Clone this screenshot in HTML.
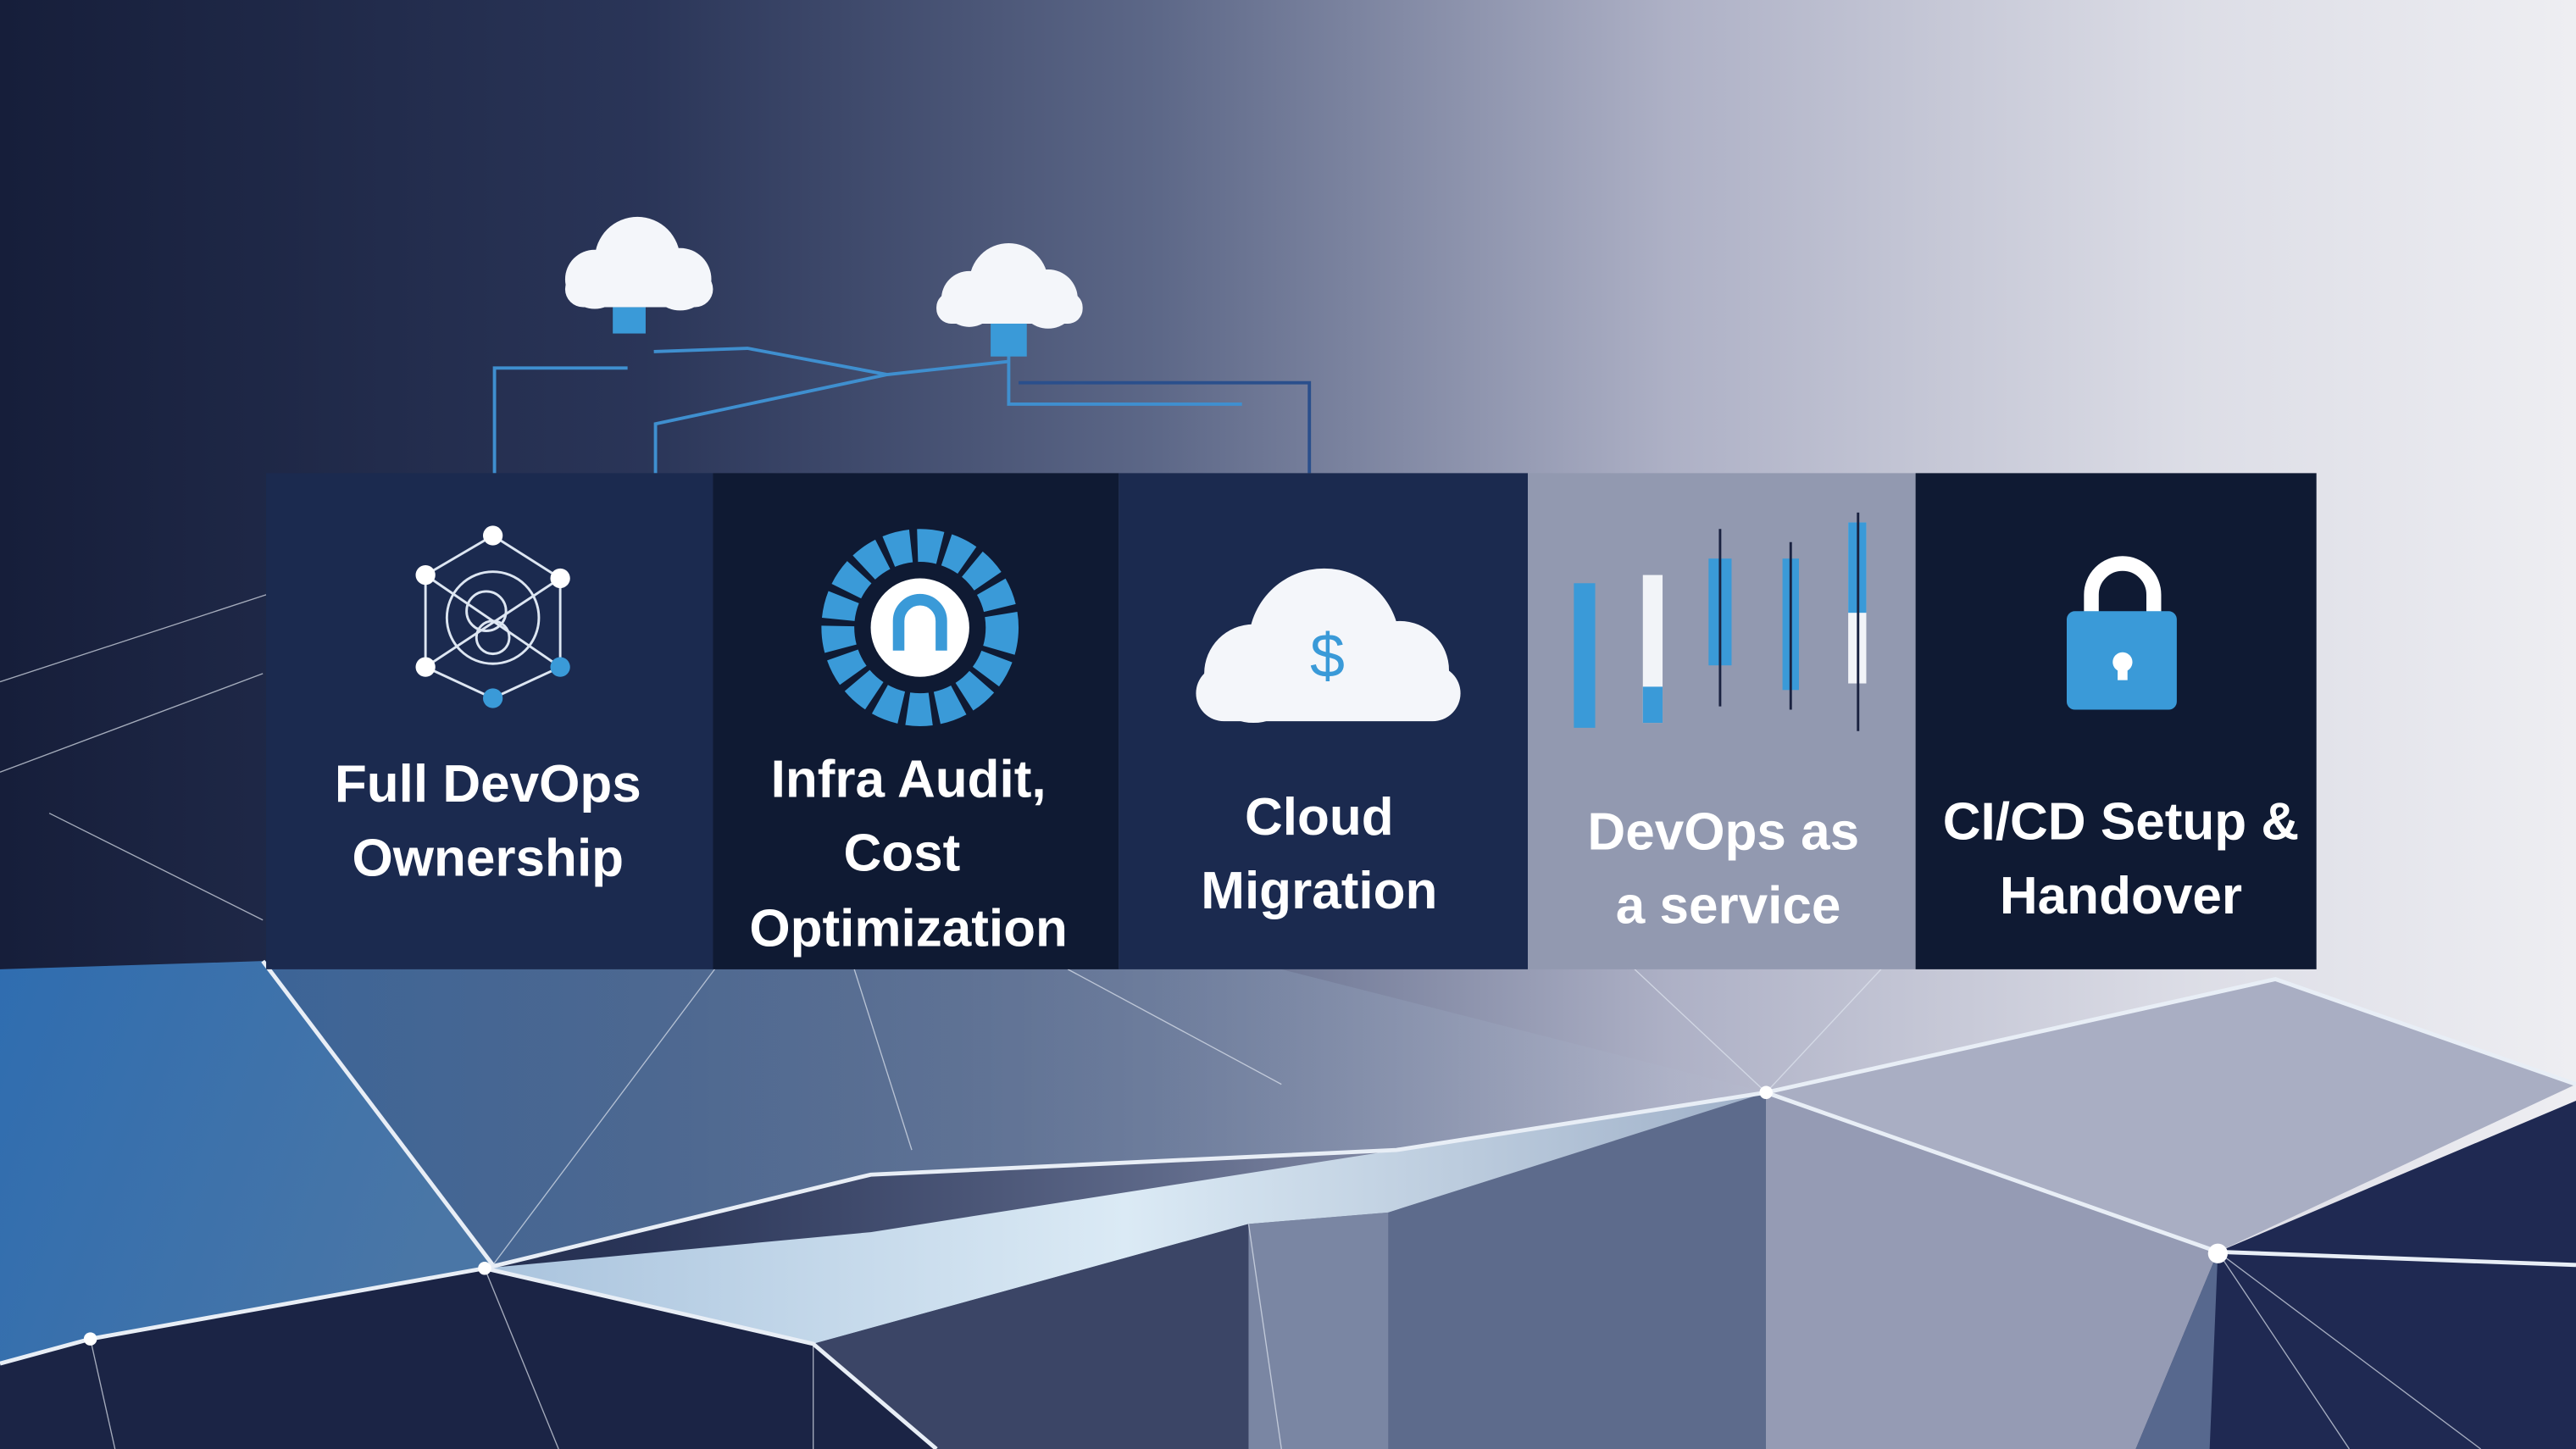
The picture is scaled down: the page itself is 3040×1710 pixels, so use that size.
<!DOCTYPE html>
<html><head><meta charset="utf-8"><style>
html,body{margin:0;padding:0;width:3040px;height:1710px;overflow:hidden;background:#1a2240}
svg{display:block}
text{font-family:"Liberation Sans","DejaVu Sans",sans-serif;font-weight:bold;fill:#fff;text-anchor:middle}
</style></head><body>
<svg width="3040" height="1710" viewBox="0 0 1568 882" preserveAspectRatio="none" xmlns="http://www.w3.org/2000/svg">
<defs>
<linearGradient id="bg" x1="0" y1="0" x2="1" y2="0">
<stop offset="0" stop-color="#161e3a"/><stop offset="0.25" stop-color="#2a3558"/><stop offset="0.45" stop-color="#5d6888"/><stop offset="0.65" stop-color="#aeb1c6"/><stop offset="0.85" stop-color="#dcdde6"/><stop offset="1" stop-color="#eeeef2"/>
</linearGradient>
<linearGradient id="blue" x1="0" y1="0" x2="1" y2="0.3">
<stop offset="0" stop-color="#2f6db0"/><stop offset="1" stop-color="#4a76a6"/>
</linearGradient>
<linearGradient id="mid" x1="0" y1="0" x2="1" y2="0">
<stop offset="0" stop-color="#3f6ba0" stop-opacity="0.9"/><stop offset="0.5" stop-color="#6f86a8" stop-opacity="0.6"/><stop offset="1" stop-color="#b9c1d3" stop-opacity="0.1"/>
</linearGradient>
<linearGradient id="light" x1="0" y1="0" x2="1" y2="0">
<stop offset="0" stop-color="#a9c3dd"/><stop offset="0.5" stop-color="#dbeaf5"/><stop offset="1" stop-color="#9fb0c8"/>
</linearGradient>
</defs>
<rect width="1568" height="882" fill="url(#bg)"/>
<polygon points="0,590 160,585 300,770 55,815 0,830" fill="url(#blue)"/>
<polygon points="160,585 440,590 780,590 1075,665 850,700 530,715 300,770" fill="url(#mid)"/>
<polygon points="1075,665 1385,596 1568,660 1350,762" fill="#a9aec3"/>
<polygon points="295,772 530,750 850,700 1075,665 845,738 760,745 495,818" fill="url(#light)"/>
<polygon points="0,830 55,815 295,772 495,818 570,882 0,882" fill="#1b2445"/>
<polygon points="495,818 760,745 760,882 570,882" fill="#3b4566"/>
<polygon points="760,745 845,738 845,882 760,882" fill="#7a86a3"/>
<polygon points="845,738 1075,665 1075,882 845,882" fill="#5d6b8c"/>
<polygon points="1075,665 1350,762 1300,882 1075,882" fill="#959bb4"/>
<polygon points="1350,762 1568,670 1568,882 1300,882" fill="#1f2952"/>
<polygon points="1350,762 1300,882 1345,882" fill="#57688e"/>
<g stroke="#e8eef6" stroke-width="2.5" fill="none">
<polyline points="0,830 55,815 295,772 530,715 850,700 1075,665 1385,596 1568,660"/>
<polyline points="295,772 495,818 570,882"/>
<polyline points="1075,665 1350,762 1568,770"/>
<polyline points="160,585 300,770"/>
</g>
<g stroke="#dfe6f0" stroke-width="0.7" fill="none" opacity="0.7">
<line x1="0" y1="415" x2="162" y2="362"/><line x1="0" y1="470" x2="160" y2="410"/><line x1="30" y1="495" x2="160" y2="560"/>
<line x1="435" y1="590" x2="300" y2="770"/><line x1="520" y1="590" x2="555" y2="700"/><line x1="650" y1="590" x2="780" y2="660"/>
<line x1="995" y1="590" x2="1075" y2="665"/><line x1="1145" y1="590" x2="1075" y2="665"/>
<line x1="1350" y1="762" x2="1510" y2="882"/><line x1="1350" y1="762" x2="1430" y2="882"/><line x1="760" y1="745" x2="780" y2="882"/>
<line x1="495" y1="818" x2="495" y2="882"/><line x1="55" y1="815" x2="70" y2="882"/><line x1="295" y1="772" x2="340" y2="882"/>
</g>
<circle cx="295" cy="772" r="4" fill="#fff"/><circle cx="1350" cy="763" r="6" fill="#fff"/><circle cx="1075" cy="665" r="4" fill="#fff"/><circle cx="55" cy="815" r="4" fill="#fff"/>
<g stroke="#3f8fcf" stroke-width="2" fill="none">
<polyline points="301,288 301,224 382,224"/>
<polyline points="398,214 455,212 540,228 614,220"/>
<polyline points="399,288 399,258 540,228"/>
<polyline points="614,212 614,246 756,246"/>
<polyline points="620,233 797,233 797,288" stroke="#2a4f8c"/>
</g>
<g fill="#f4f6fa">
<circle cx="388" cy="158" r="26"/><circle cx="362" cy="170" r="18"/><circle cx="414" cy="170" r="19"/><rect x="344" y="165" width="90" height="22" rx="11"/>
<circle cx="614" cy="172" r="24"/><circle cx="590" cy="182" r="17"/><circle cx="638" cy="182" r="18"/><rect x="570" y="178" width="89" height="19" rx="9"/>
</g>
<rect x="373" y="187" width="20" height="16" fill="#3a9ad8"/><rect x="603" y="197" width="22" height="20" fill="#3a9ad8"/>
<rect x="162" y="288" width="272" height="302" fill="#1b2a4f"/>
<rect x="434" y="288" width="247" height="302" fill="#0f1a33"/>
<rect x="681" y="288" width="249" height="302" fill="#1b2a4f"/>
<rect x="930" y="288" width="236" height="302" fill="#9299b0"/>
<rect x="1166" y="288" width="244" height="302" fill="#0f1a33"/>
<g stroke="#dde6f2" stroke-width="1.5" fill="none">
<polygon points="300,326 341,352 341,406 300,425 259,406 259,350"/>
<circle cx="300" cy="376" r="28"/><circle cx="296" cy="372" r="12"/><circle cx="300" cy="388" r="10"/>
<line x1="259" y1="350" x2="341" y2="406"/><line x1="341" y1="352" x2="259" y2="406"/>
</g>
<g fill="#fff"><circle cx="300" cy="326" r="6"/><circle cx="341" cy="352" r="6"/><circle cx="259" cy="350" r="6"/><circle cx="259" cy="406" r="6"/></g>
<g fill="#3a9ad8"><circle cx="341" cy="406" r="6"/><circle cx="300" cy="425" r="6"/></g>
<circle cx="560" cy="382" r="50" fill="none" stroke="#3a9ad8" stroke-width="20" stroke-dasharray="14 4"/>
<circle cx="560" cy="382" r="30" fill="#fff"/>
<path d="M547,396 V378 a13,13 0 0 1 26,0 V396" fill="none" stroke="#3a9ad8" stroke-width="7"/>
<g fill="#f4f6fa"><circle cx="806" cy="392" r="46"/><circle cx="763" cy="410" r="30"/><circle cx="852" cy="408" r="30"/><rect x="728" y="405" width="161" height="34" rx="17"/></g>
<text x="808" y="412" style="fill:#3a9ad8;font-size:38px;font-weight:normal">$</text>
<g><rect x="958" y="355" width="13" height="88" fill="#3a9ad8"/><rect x="1000" y="350" width="12" height="90" fill="#f2f4f8"/><rect x="1000" y="418" width="12" height="22" fill="#3a9ad8"/>
<rect x="1040" y="340" width="14" height="65" fill="#3a9ad8"/><rect x="1085" y="340" width="10" height="80" fill="#3a9ad8"/><rect x="1125" y="318" width="11" height="98" fill="#f2f4f8"/><rect x="1125" y="318" width="11" height="55" fill="#3a9ad8"/></g>
<g stroke="#1a2240" stroke-width="1.5"><line x1="1047" y1="322" x2="1047" y2="430"/><line x1="1090" y1="330" x2="1090" y2="432"/><line x1="1131" y1="312" x2="1131" y2="445"/></g>
<path d="M1273,375 V362 a19,19 0 0 1 38,0 V375" fill="none" stroke="#fff" stroke-width="9"/>
<rect x="1258" y="372" width="67" height="60" rx="5" fill="#3a9ad8"/>
<circle cx="1292" cy="403" r="6" fill="#fff"/><rect x="1289" y="403" width="6" height="11" fill="#fff"/>
<g style="font-size:32px">
<text x="297" y="488">Full DevOps</text><text x="297" y="533">Ownership</text>
<text x="553" y="485">Infra Audit,</text><text x="549" y="530">Cost</text><text x="553" y="576">Optimization</text>
<text x="803" y="508">Cloud</text><text x="803" y="553">Migration</text>
<text x="1049" y="517">DevOps as</text><text x="1052" y="562">a service</text>
<text x="1291" y="511">CI/CD Setup &amp;</text><text x="1291" y="556">Handover</text>
</g>
</svg>
</body></html>
